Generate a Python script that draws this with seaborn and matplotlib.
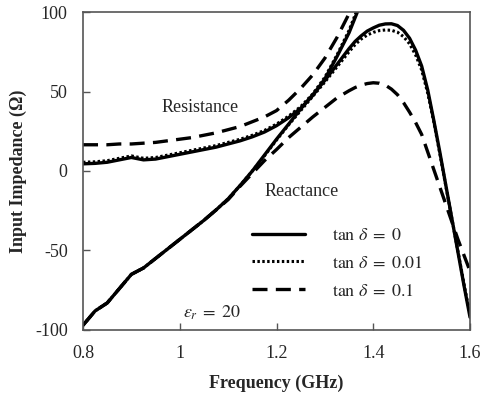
import matplotlib
matplotlib.use('Agg')
import matplotlib.pyplot as plt
import seaborn as sns
import numpy as np

# reactance (finer steps around the peak)
freq_x = [0.800, 0.825, 0.850, 0.875, 0.900, 0.925, 0.950, 0.975, 1.000, 1.025,
          1.050, 1.075, 1.100, 1.125, 1.150, 1.175, 1.200, 1.225, 1.250, 1.275,
          1.300, 1.325, 1.350, 1.3625, 1.375, 1.3875, 1.400, 1.4125, 1.425, 1.4375,
          1.450, 1.4625, 1.475, 1.4875, 1.500, 1.5125, 1.525, 1.5375, 1.550, 1.5625,
          1.575, 1.5875, 1.600]
react_0 = [-97, -88, -83, -74, -65, -61, -55, -49, -43, -37,
           -31, -24.5, -17.5, -9, 0, 10, 20, 29.5, 39, 48,
           57, 67, 77, 81.5, 85, 88, 90, 91.7, 92.5, 92.6,
           91.5, 88.5, 83.5, 76, 66, 51, 32, 12, -9, -30,
           -51, -72, -92]
react_001 = [-97, -88, -83, -74, -65, -61, -55, -49, -43, -37,
             -31, -24.5, -17.5, -9, 0, 9.5, 19.5, 29, 38, 47,
             56, 65.5, 75, 79.5, 83, 85.5, 87.2, 88.3, 88.7, 88.5,
             87.3, 84.5, 80, 73, 63.5, 49, 31, 11, -9.5, -30,
             -50.5, -71, -91]
react_01 = [-97, -88, -83, -74, -65, -61, -55, -49, -43, -37,
            -31, -24.5, -18, -9.5, -1.5, 6.5, 13.5, 21, 27.5, 34,
            40, 46, 50.5, 52.5, 54, 55, 55.5, 55.2, 54, 51.5,
            48, 43, 37, 30.5, 23, 12, 1, -10, -21, -32,
            -43, -53, -63]

# resistance, until it leaves the top of the plot
freq_r = [0.800, 0.825, 0.850, 0.875, 0.900, 0.925, 0.950, 0.975, 1.000, 1.025,
          1.050, 1.075, 1.100, 1.125, 1.150, 1.175, 1.200, 1.225, 1.250, 1.275,
          1.300, 1.325, 1.350, 1.375]
res_0 = [4.5, 4.8, 5.5, 7, 8.5, 7, 7.5, 9, 10.5, 12,
         13.5, 15, 17, 19, 21.5, 24.5, 28.5, 33.5, 39.5, 47.5,
         58, 72, 87, 106]
res_001 = [5.5, 5.8, 6.5, 8, 9.5, 8, 8.5, 10, 11.5, 13,
           14.5, 16, 18, 20, 22.5, 25.5, 29.5, 34.5, 40.5, 48.5,
           59, 73, 88.5, 108]
res_01 = [16.5, 16.5, 16.5, 17, 17, 17.5, 18, 19, 20, 21,
          22.5, 24, 26, 28, 31, 34, 38, 44.5, 52, 60.5,
          71, 84, 99, 116]

labels = [r'$\tan\,\delta\;=\;0$', r'$\tan\,\delta\;=\;0.01$', r'$\tan\,\delta\;=\;0.1$']

sns.set_style('ticks')
plt.rcParams['font.family'] = ['Liberation Serif', 'DejaVu Serif']
plt.rcParams['mathtext.fontset'] = 'stix'
plt.rcParams['axes.unicode_minus'] = False

fig = plt.figure(figsize=(4.81, 3.95), dpi=100)
ax = fig.add_axes([0.1726, 0.1646, 0.8046, 0.805])

styles = [dict(linestyle='-', linewidth=2.4),
          dict(linestyle=(0, (0.8, 0.8)), linewidth=2.2),
          dict(linestyle=(0, (4.5, 2.5)), linewidth=2.4)]

for r, x, lab, st in zip([res_0, res_001, res_01], [react_0, react_001, react_01], labels, styles):
    sns.lineplot(x=freq_r, y=r, ax=ax, color='black', **st)
    sns.lineplot(x=freq_x, y=x, ax=ax, color='black', label=lab, **st)

ax.set_xlim(0.8, 1.6)
ax.set_ylim(-100, 100)
ax.set_xticks([0.8, 1.0, 1.2, 1.4, 1.6])
ax.set_xticklabels(['0.8', '1', '1.2', '1.4', '1.6'])
ax.set_yticks([-100, -50, 0, 50, 100])
ax.tick_params(direction='in', length=5, width=1, labelsize=13, color='#555555', pad=11)
for s in ax.spines.values():
    s.set_color('#555555')
    s.set_linewidth(1.2)

ax.set_xlabel('Frequency (GHz)', fontsize=13, fontweight='bold', labelpad=9)
ax.set_ylabel('Input Impedance (Ω)', fontsize=13, fontweight='bold', labelpad=6)

ax.text(1.042, 40, 'Resistance', fontsize=13, ha='center', va='center')
ax.text(1.251, -13, 'Reactance', fontsize=13, ha='center', va='center')
ax.text(1.067, -89, r'$\varepsilon_r\;=\;20$', fontsize=13, ha='center', va='center')

ax.legend(loc='upper left', bbox_to_anchor=(0.437, 0.324), frameon=False, fontsize=13,
          handlelength=2.9, handletextpad=1.5, labelspacing=0.6, borderpad=0,
          borderaxespad=0)

fig.savefig('out.png', dpi=100)
